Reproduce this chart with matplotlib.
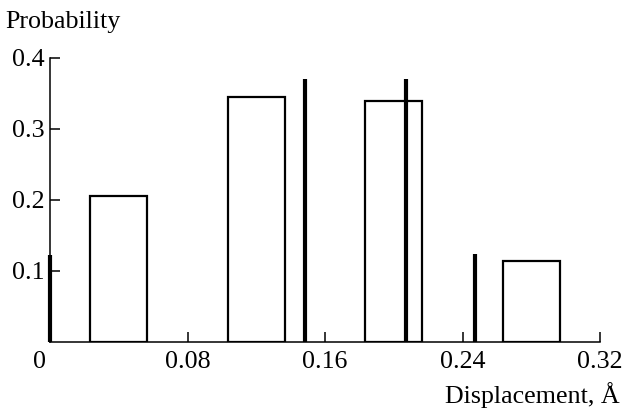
import matplotlib
matplotlib.use("Agg")
import matplotlib.pyplot as plt
from matplotlib.transforms import ScaledTranslation

plt.rcParams['font.family'] = ['Liberation Serif', 'DejaVu Serif']

# Histogram bars (open rectangles)
bar_centers = [0.04, 0.12, 0.20, 0.28]
bar_heights = [0.205, 0.345, 0.339, 0.113]
bar_width = 0.033

# Thick vertical lines
line_x = [0.0, 0.1485, 0.207, 0.247]
line_h = [0.122, 0.370, 0.370, 0.123]

xticks = [0, 0.08, 0.16, 0.24, 0.32]
xticklabels = ["0", "0.08", "0.16", "0.24", "0.32"]
yticks = [0.1, 0.2, 0.3, 0.4]
yticklabels = ["0.1", "0.2", "0.3", "0.4"]

FS = 18.7

fig = plt.figure(figsize=(6.24, 4.13), dpi=100)
ax = fig.add_axes([50/624, 1 - 341.7/413, 550/624, (341.7 - 57.7)/413])

ax.bar(bar_centers, bar_heights, width=bar_width, fill=False,
       edgecolor='black', linewidth=1.6, zorder=2)
ax.vlines(line_x, 0, line_h, colors='black', linewidth=3.0, zorder=3,
          clip_on=False)

ax.set_xlim(0, 0.32)
ax.set_ylim(0, 0.4)
for s in ['top', 'right']:
    ax.spines[s].set_visible(False)
for s in ['left', 'bottom']:
    ax.spines[s].set_linewidth(1.1)

ax.set_xticks(xticks)
ax.set_xticklabels(xticklabels)
ax.set_yticks(yticks)
ax.set_yticklabels(yticklabels)
ax.tick_params(axis='both', direction='in', length=7, width=1.1,
               labelsize=FS)
ax.tick_params(axis='x', pad=7)
ax.tick_params(axis='y', pad=4)

# shift "0" label slightly left
lbl0 = ax.get_xticklabels()[0]
lbl0.set_transform(lbl0.get_transform() + ScaledTranslation(-11/100, 0, fig.dpi_scale_trans))

fig.text(5/624, 1 - 22/413, "Probability", fontsize=FS, ha='left', va='center')
fig.text(620/624, 1 - 395/413, "Displacement, Å", fontsize=FS, ha='right', va='center')

fig.savefig("out.png", dpi=100)
